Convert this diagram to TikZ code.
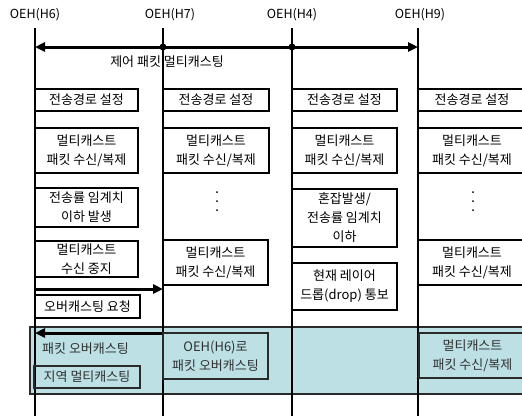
\documentclass[tikz,border=0pt]{standalone}
\usepackage{fontspec}
\setmainfont{Noto Sans CJK KR}
\usetikzlibrary{arrows.meta}
\definecolor{tealbg}{HTML}{BCE0E4}
\definecolor{edgegray}{HTML}{2A2A2A}
\definecolor{txtgray}{HTML}{303030}
\tikzset{
  lifeline/.style={line width=1.2pt, draw=black},
  msg/.style={line width=3pt, draw=black},
  tip/.tip={Triangle[length=10pt,width=9pt]},
  box/.style={draw=black, line width=1.2pt, inner sep=0pt, align=center,
    font=\fontsize{13}{19}\selectfont},
  tbox/.style={box, draw=edgegray, text=txtgray},
  lbl/.style={inner sep=0pt, align=center, font=\fontsize{13}{19}\selectfont},
  hdr/.style={inner sep=0pt, align=center, font=\fontsize{12.5}{15}\selectfont},
  dotmark/.style={circle, fill=black, inner sep=0pt, minimum size=7pt},
  smalldot/.style={circle, fill=black, inner sep=0pt, minimum size=2pt},
}
\newcommand\obox[7][box]{%
  \node[#1, minimum width={#5-#3}, minimum height={#6-#4}] (#2) at ({(#3+#5)/2},{(#4+#6)/2}) {#7};}
\begin{document}
\begin{tikzpicture}[x=1pt,y=-1pt]
\useasboundingbox (0,0) rectangle (522,416);
\clip (0,0) rectangle (522,416);
\fill[white] (0,0) rectangle (522,416);

% teal band
\node[draw=edgegray, fill=tealbg, line width=1.2pt, inner sep=0pt,
  minimum width=500pt, minimum height=67pt] (band) at (280,360.5) {};

% headers
\node[hdr] (l6) at (35,15) {OEH(H6)};
\node[hdr] (l7) at (170,15) {OEH(H7)};
\node[hdr] (l4) at (292,15) {OEH(H4)};
\node[hdr] (l9) at (420,15) {OEH(H9)};

% lifelines
\foreach \n/\x in {6/35,7/163,4/292,9/418}{
  \coordinate (t\n) at (\x,28);
  \coordinate (b\n) at (\x,416);
  \draw[lifeline] (t\n) -- (b\n);
}

% control packet multicast
\coordinate (c6) at (35,47);
\coordinate (c9) at (418,47);
\draw[msg, tip-tip] (c6) -- (c9);
\node[dotmark] (d7) at (163,47) {};
\node[dotmark] (d4) at (292,47) {};
\node[lbl] (ctrl) at (167,62) {제어 패킷 멀티캐스팅};

% row 1
\obox{r1a}{35}{89}{138}{111}{전송경로 설정}
\obox{r1b}{163}{89}{269}{111}{전송경로 설정}
\obox{r1c}{292}{89}{397}{111}{전송경로 설정}
\obox{r1d}{418}{89}{526}{111}{전송경로 설정}

% row 2
\obox{r2a}{35}{128}{138}{173}{멀티캐스트\\패킷 수신/복제}
\obox{r2b}{163}{128}{269}{173}{멀티캐스트\\패킷 수신/복제}
\obox{r2c}{292}{128}{397}{173}{멀티캐스트\\패킷 수신/복제}
\obox{r2d}{418}{128}{526}{173}{멀티캐스트\\패킷 수신/복제}

% H6 column
\obox{r3a}{35}{188}{138}{227}{전송률 임계치\\이하 발생}
\obox{r4a}{35}{241}{138}{277}{멀티캐스트\\수신 중지}

% H7 column
\foreach \i/\y in {1/192,2/201,3/210}{\node[smalldot] (v7\i) at (217,\y) {};}
\obox{r4b}{163}{240}{268}{285}{멀티캐스트\\패킷 수신/복제}

% H4 column
\obox{r3c}{292}{189}{397}{247}{혼잡발생/\\전송률 임계치\\이하}
\obox{r4c}{292}{263}{397}{310}{현재 레이어\\드롭(drop) 통보}

% H9 column
\foreach \i/\y in {1/192,2/201,3/210}{\node[smalldot] (v9\i) at (473,\y) {};}
\obox{r4d}{418}{240}{526}{285}{멀티캐스트\\패킷 수신/복제}

% overcasting request
\coordinate (q6) at (34,289);
\coordinate (q7) at (163,289);
\draw[msg, -tip] (q6) -- (q7);
\obox{req}{35}{295}{140}{318}{오버캐스팅 요청}

% overcasting
\coordinate (o7) at (164,333);
\coordinate (o6) at (35,333);
\draw[msg, -tip] (o7) -- (o6);
\node[lbl, anchor=west, text=txtgray] (pov) at (42,349) {패킷 오버캐스팅};
\obox[tbox]{loc}{34}{366}{140}{388}{지역 멀티캐스팅}
\obox[tbox]{h7ov}{163}{333}{268}{379}{OEH(H6)로\\패킷 오버캐스팅}
\obox[tbox]{h9ov}{419}{333}{526}{378}{멀티캐스트\\패킷 수신/복제}
\end{tikzpicture}
\end{document}
